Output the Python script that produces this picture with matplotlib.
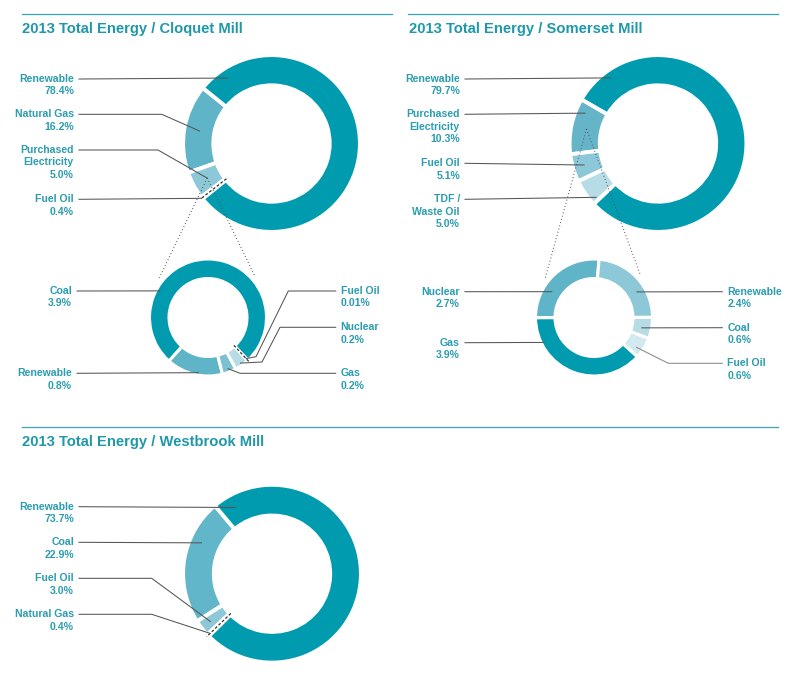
import numpy as np
import matplotlib.pyplot as plt

W, H = 806, 686

# ---- data (wedges listed counterclockwise from the start angle) ----
cloquet_sources = ['Natural Gas', 'Purchased\nElectricity', 'Fuel Oil', 'Renewable']
cloquet_share = [16.2, 5.0, 0.4, 78.4]

cloquet_pe_sources = ['Renewable', 'Gas', 'Nuclear', 'Fuel Oil', 'Coal']
cloquet_pe_share = [0.8, 0.2, 0.2, 0.01, 3.9]

somerset_sources = ['Purchased\nElectricity', 'Fuel Oil', 'TDF /\nWaste Oil', 'Renewable']
somerset_share = [10.3, 5.1, 5.0, 79.7]

somerset_pe_sources = ['Nuclear', 'Gas', 'Fuel Oil', 'Coal', 'Renewable']
somerset_pe_share = [2.7, 3.9, 0.6, 0.6, 2.4]

westbrook_sources = ['Coal', 'Fuel Oil', 'Natural Gas', 'Renewable']
westbrook_share = [22.9, 3.0, 0.4, 73.7]

titles = ['2013 Total Energy / Cloquet Mill',
          '2013 Total Energy / Somerset Mill',
          '2013 Total Energy / Westbrook Mill']

# ---- style ----
DARK = '#009bae'
MID = '#5fb4c8'
LIGHT = '#8cc8d8'
PALE = '#b6dce6'
PALER = '#d2e9ef'
TXT = '#2b9db0'
LINE = '#555555'
FONT = 'Liberation Sans'

fig = plt.figure(figsize=(W / 100, H / 100), dpi=100)
ax = fig.add_axes([0, 0, 1, 1])


def Y(y):
    return H - y


def donut(cx, cy, R, r_in, values, start, colors, lw, tiny=()):
    ax.pie(values, radius=R, center=(cx, Y(cy)), startangle=start,
           colors=colors, frame=True,
           wedgeprops=dict(width=R - r_in, edgecolor='white', linewidth=lw))
    edges = start + 360 * np.concatenate([[0], np.cumsum(values)]) / np.sum(values)
    for i in tiny:
        a = np.radians((edges[i] + edges[i + 1]) / 2)
        rr = np.array([r_in - 1, R + 2])
        ax.plot(cx + rr * np.cos(a), Y(cy) + rr * np.sin(a), color='#333333',
                lw=0.9, ls=(0, (2.2, 1.6)), zorder=5)
    return edges


def point(cx, cy, edges, i, frac, rad):
    a = np.radians(edges[i] + frac * (edges[i + 1] - edges[i]))
    return cx + rad * np.cos(a), cy - rad * np.sin(a)


def label(name, value, tx, ty, ha, path, anchor, color=LINE):
    lines = name.split('\n') + [f'{value}%']
    for k, s in enumerate(lines):
        ax.text(tx, Y(ty + k * 12.3), s, ha=ha, va='center', color=TXT,
                fontsize=7.6, fontweight='bold', family=FONT)
    x0 = tx + 5 if ha == 'right' else tx - 5
    pts = [(x0, ty)] + path + [anchor]
    xs = [p[0] for p in pts]
    ys = [Y(p[1]) for p in pts]
    ax.plot(xs, ys, color=color, lw=0.75, zorder=6)


def zoom_lines(src, cx, cy, R):
    # dotted lines from the purchased electricity wedge to its breakdown ring
    for ang in (141, 42):
        a = np.radians(ang)
        ax.plot([src[0], cx + 1.1 * R * np.cos(a)], [Y(src[1]), Y(cy) + 1.1 * R * np.sin(a)],
                color=LINE, lw=0.8, ls=(0, (0.8, 2.2)), zorder=6)


# ---- Cloquet ----
c1 = (271.5, 143.5)
e1 = donut(*c1, 88.4, 58.2, cloquet_share, 141, [MID, LIGHT, 'white', DARK], 2.8, tiny=[2])
lab1 = [(74, 114.3, 'right', [(161.7, 114.3)], 0.5, 73),
        (74, 150, 'right', [(158, 150)], 0.5, 73),
        (74, 199.3, 'right', [], 0.5, 89),
        (74, 79, 'right', [], 0.94, 79)]
for i, (tx, ty, ha, path, fr, rad) in enumerate(lab1):
    label(cloquet_sources[i], cloquet_share[i], tx, ty, ha, path, point(*c1, e1, i, fr, rad))

c2 = (208, 317.5)
e2 = donut(*c2, 58.5, 39, cloquet_pe_share, 228, [MID, '#7dc0d2', PALE, 'white', DARK], 2.2, tiny=[3])
lab2 = [(72, 373.3, 'right', [], 0.57, 56),
        (340.7, 373.3, 'left', [(240, 373.3)], 0.5, 55),
        (340.7, 327.3, 'left', [(280, 327.3), (262, 362)], 0.5, 56),
        (340.7, 291, 'left', [(288.3, 291), (256, 356.7)], 0.5, 56),
        (72, 291, 'right', [], 0.72, 55)]
for i, (tx, ty, ha, path, fr, rad) in enumerate(lab2):
    label(cloquet_pe_sources[i], cloquet_pe_share[i], tx, ty, ha, path, point(*c2, e2, i, fr, rad))
zoom_lines(point(*c1, e1, 1, 0.5, 73), *c2, 57)

# ---- Somerset ----
c3 = (658, 143.5)
e3 = donut(*c3, 88.4, 58.2, somerset_share, 150, ['#66b4c8', LIGHT, PALE, DARK], 2.8)
lab3 = [(460, 114.3, 'right', [], 0.2, 79),
        (460, 163.3, 'right', [], 0.5, 77),
        (460, 199.3, 'right', [], 0.87, 82),
        (460, 79, 'right', [], 0.916, 81)]
for i, (tx, ty, ha, path, fr, rad) in enumerate(lab3):
    label(somerset_sources[i], somerset_share[i], tx, ty, ha, path, point(*c3, e3, i, fr, rad))

c4 = (594, 317.5)
e4 = donut(*c4, 58.5, 39, somerset_pe_share, 85, [MID, DARK, PALER, PALE, LIGHT], 2.2)
lab4 = [(460, 291.7, 'right', [], 0.667, 49.5),
        (460, 342.7, 'right', [], 0.19, 56),
        (727.3, 363.3, 'left', [(668.3, 363.3)], 0.33, 52),
        (727.3, 327.7, 'left', [], 0.41, 49),
        (727.3, 291.7, 'left', [], 0.36, 50)]
for i, (tx, ty, ha, path, fr, rad) in enumerate(lab4):
    col = '#8a8a8a' if i == 2 else LINE
    label(somerset_pe_sources[i], somerset_pe_share[i], tx, ty, ha, path, point(*c4, e4, i, fr, rad), col)
zoom_lines(point(*c3, e3, 0, 0.5, 73), *c4, 57)

# ---- Westbrook ----
c5 = (272, 573.7)
e5 = donut(*c5, 88.9, 58.2, westbrook_share, 130, ['#62b6c9', LIGHT, 'white', DARK], 2.8, tiny=[2])
lab5 = [(74, 542.3, 'right', [], 0.32, 77),
        (74, 578.3, 'right', [(151.7, 578.3)], 0.5, 78),
        (74, 614.3, 'right', [(151.7, 614.3)], 0.5, 86),
        (74, 506.7, 'right', [], 0.96, 76)]
for i, (tx, ty, ha, path, fr, rad) in enumerate(lab5):
    label(westbrook_sources[i], westbrook_share[i], tx, ty, ha, path, point(*c5, e5, i, fr, rad))

# ---- titles and rules ----
for (x0, x1, y), (tx, ty), t in zip([(22, 392, 14), (408, 778, 14), (22, 778, 427)],
                                    [(22, 28.5), (409, 28.5), (22, 442)], titles):
    ax.plot([x0, x1], [Y(y), Y(y)], color='#3aa3b3', lw=0.9)
    ax.text(tx, Y(ty), t, ha='left', va='center', color='#1f98a9',
            fontsize=10.6, fontweight='bold', family=FONT)

ax.set_xlim(0, W)
ax.set_ylim(0, H)
ax.axis('off')
fig.savefig('out.png', dpi=100, facecolor='white')
